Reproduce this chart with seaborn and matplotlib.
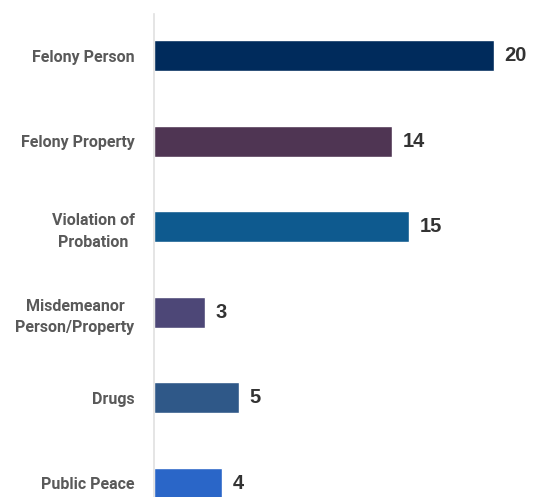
import pandas as pd
import seaborn as sns
import matplotlib.pyplot as plt

# Offense categories and counts
categories = ['Felony Person', 'Felony Property', 'Violation of\nProbation',
              'Misdemeanor\nPerson/Property', 'Drugs', 'Public Peace']
counts = [20, 14, 15, 3, 5, 4]
bar_colors = ['#002b5c', '#4f3553', '#0e5a8f', '#4d4777', '#2f5888', '#2a66c8']

df = pd.DataFrame({'category': categories, 'count': counts})

sns.set_style('white')
plt.rcParams['font.family'] = ['Roboto', 'DejaVu Sans']

fig = plt.figure(figsize=(5.33, 4.97), dpi=100)
ax = fig.add_axes([0.289, 0.0, 0.711, 0.972])

sns.barplot(data=df, x='count', y='category', hue='category',
            palette=bar_colors, saturation=1, width=0.36, legend=False, ax=ax)

ax.set_xlim(0, 22.3)
ax.set_ylim(5.16, -0.49)

for i, v in enumerate(counts):
    ax.text(v + 0.62, i, str(v), va='center', ha='left', fontsize=14.5,
            fontweight='bold', color='#333333', family=['Liberation Sans', 'DejaVu Sans'])

ax.set_xlabel('')
ax.set_ylabel('')
ax.set_xticks([])
ax.tick_params(axis='y', length=0, pad=14)
for lbl in ax.get_yticklabels():
    lbl.set_fontsize(11.5)
    lbl.set_fontweight('bold')
    lbl.set_color('#595959')
    lbl.set_multialignment('center')
    lbl.set_linespacing(1.55)

for s in ['top', 'right', 'bottom']:
    ax.spines[s].set_visible(False)
ax.spines['left'].set_color('#e0e0e0')
ax.spines['left'].set_linewidth(1.2)

fig.savefig('out.png', dpi=100)
